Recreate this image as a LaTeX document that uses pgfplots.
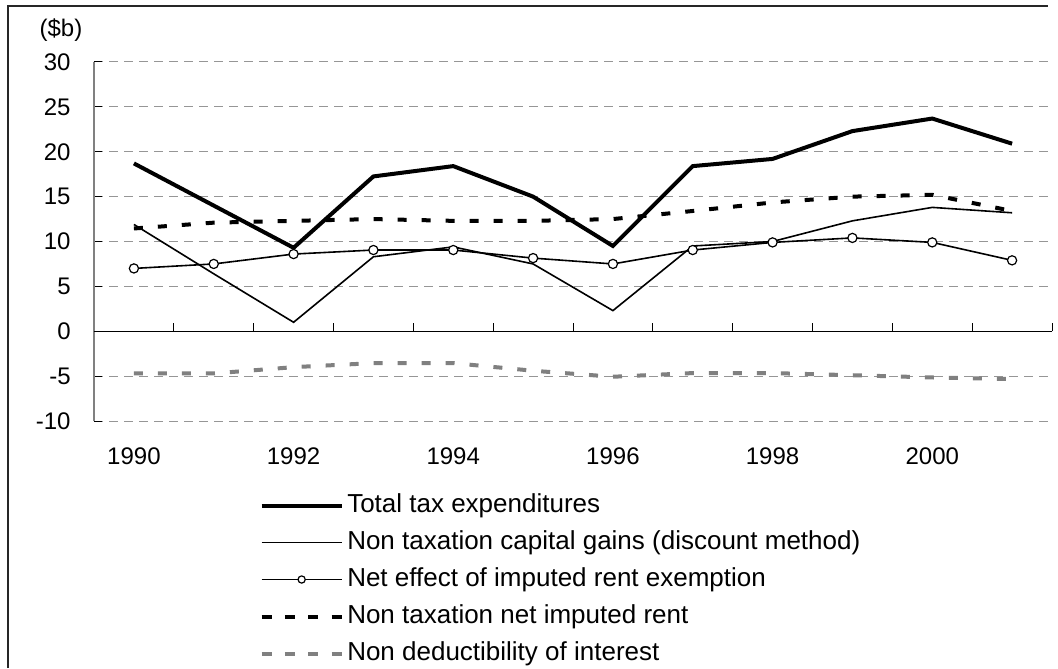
\documentclass[border=0pt]{standalone}
\usepackage{fontspec}
\setmainfont{Liberation Sans}
\usepackage{pgfplots}
\pgfplotsset{compat=1.18}
\definecolor{gridgray}{RGB}{150,150,150}
\definecolor{axgray}{RGB}{128,128,128}
\definecolor{sergray}{RGB}{128,128,128}
\begin{document}
\fontsize{12}{14.4}\selectfont
\begin{tikzpicture}
\useasboundingbox (-47pt,-123.5pt) rectangle (482pt,210.5pt);
\begin{axis}[
  at={(0,0)}, anchor=south west,
  width=479pt, height=179.5pt, scale only axis,
  xmin=1989.5, xmax=2001.5, ymin=-10, ymax=30,
  axis x line=bottom, axis y line=left,
  x axis line style={draw=none},
  y axis line style={draw=axgray, line width=0.75pt, -},
  xtick={1990,1992,...,2000},
  xticklabels={1990,1992,1994,1996,1998,2000},
  major x tick style={draw=none},
  ytick={-10,-5,...,30},
  yticklabels={-10,-5,0,5,10,15,20,25,30},
  ytick style={black, line width=0.5pt},
  tick align=inside, major tick length=4pt,
  ymajorgrids, grid style={gridgray, line width=0.5pt, dash pattern=on 4.5pt off 3pt},
  tick label style={font=\fontsize{12}{14.4}\selectfont},
  yticklabel style={xshift=-7.5pt},
  xticklabel style={yshift=-9pt},
  clip=false,
  legend image code/.code={\draw[mark repeat=2,mark phase=2,#1] plot coordinates {(0pt,0pt) (20pt,0pt) (40pt,0pt)};},
  legend cell align=left,
  legend style={at={(0.1725,-0.1992)}, anchor=north west, draw=none, fill=none,
    font=\fontsize{13}{15.6}\selectfont, row sep=5.9pt, inner xsep=0pt, inner ysep=0pt,
    nodes={inner xsep=1.8pt, inner ysep=0pt, text height=9.6pt, text depth=3pt}},
]
% Non deductibility of interest
\addplot[sergray, line width=2pt, dash pattern=on 4.5pt off 7.5pt, forget plot] coordinates {
(1990,-4.7) (1991,-4.7) (1992,-4.0) (1993,-3.55) (1994,-3.55) (1995,-4.4)
(1996,-5.07) (1997,-4.66) (1998,-4.66) (1999,-4.9) (2000,-5.15) (2001,-5.33)};
% Non taxation net imputed rent
\addplot[black, line width=2pt, dash pattern=on 4.5pt off 7.5pt, forget plot] coordinates {
(1990,11.45) (1991,12.1) (1992,12.3) (1993,12.5) (1994,12.3) (1995,12.3)
(1996,12.5) (1997,13.4) (1998,14.35) (1999,15.0) (2000,15.2) (2001,13.4)};
% Non taxation capital gains
\addplot[black, line width=0.8pt, forget plot] coordinates {
(1990,11.9) (1991,6.4) (1992,1.0) (1993,8.3) (1994,9.4) (1995,7.5)
(1996,2.3) (1997,9.5) (1998,10.0) (1999,12.3) (2000,13.8) (2001,13.2)};
% Net effect of imputed rent exemption
\addplot[black, line width=0.8pt, mark=*, mark size=2.3pt, mark options={fill=white, line width=0.6pt}, forget plot] coordinates {
(1990,7.0) (1991,7.5) (1992,8.6) (1993,9.05) (1994,9.05) (1995,8.15)
(1996,7.5) (1997,9.05) (1998,9.9) (1999,10.4) (2000,9.9) (2001,7.9)};
% Total tax expenditures
\addplot[black, line width=2pt, forget plot] coordinates {
(1990,18.7) (1991,14.0) (1992,9.3) (1993,17.25) (1994,18.4) (1995,15.0)
(1996,9.5) (1997,18.4) (1998,19.2) (1999,22.3) (2000,23.7) (2001,20.9)};

\draw[black, line width=0.75pt] (axis cs:1989.5,0) -- (axis cs:2001.5,0);
\pgfplotsinvokeforeach{1990.5,1991.5,1992.5,1993.5,1994.5,1995.5,1996.5,1997.5,1998.5,1999.5,2000.5,2001.5}{
  \draw[black, line width=0.5pt] (axis cs:#1,0) -- ++(0pt,4pt);
}

\addlegendimage{black, line width=2pt}
\addlegendentry{Total tax expenditures}
\addlegendimage{black, line width=0.8pt}
\addlegendentry{Non taxation capital gains (discount method)}
\addlegendimage{black, line width=0.8pt, mark=*, mark size=1.8pt, mark options={fill=white, line width=0.6pt}}
\addlegendentry{Net effect of imputed rent exemption}
\addlegendimage{black, line width=2pt, dash pattern=on 5pt off 6.67pt}
\addlegendentry{Non taxation net imputed rent}
\addlegendimage{sergray, line width=2pt, dash pattern=on 5pt off 6.67pt}
\addlegendentry{Non deductibility of interest}
\end{axis}
\draw[black!85, line width=1pt] (-43pt,-123.5pt) -- (-43pt,207.5pt) -- (477pt,207.5pt);
\node at (-16.5pt,195.5pt) {(\$b)};
\end{tikzpicture}
\end{document}
